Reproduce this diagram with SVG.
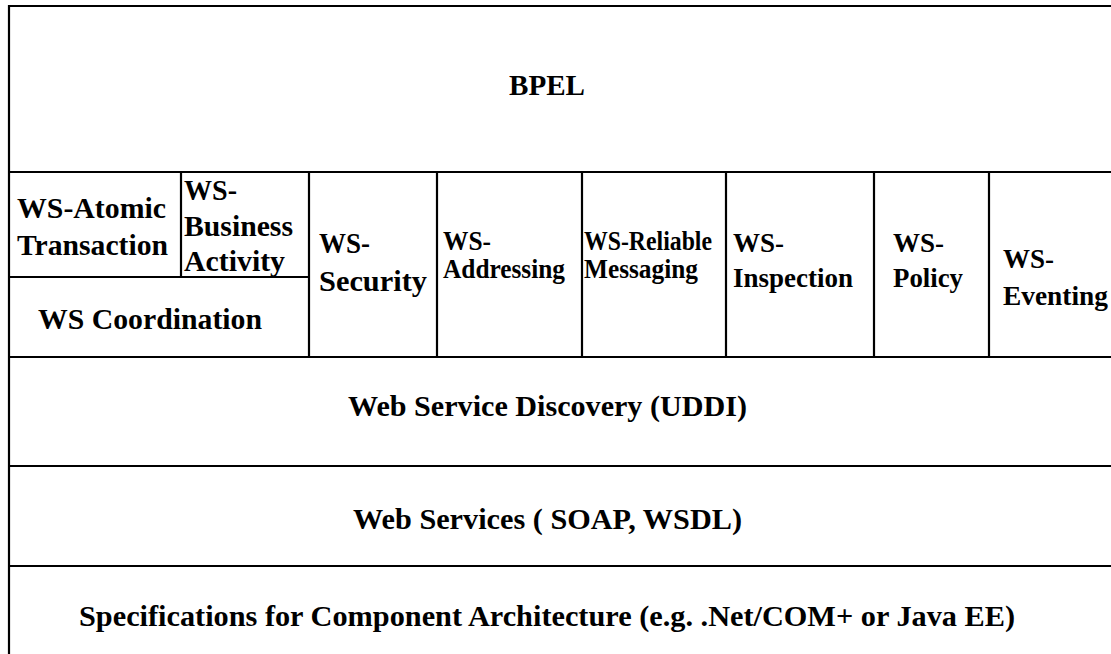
<svg xmlns="http://www.w3.org/2000/svg" width="1111" height="654" viewBox="0 0 1111 654">
<style>
  .ln { stroke: #000; stroke-width: 2.2; fill: none; }
  text { font-family: "Liberation Serif", "Times New Roman", serif; font-weight: bold; fill: #000; }
  .c { text-anchor: middle; }
  .big { font-size: 30px; }
  .l { font-size: 29px; }
  .m { font-size: 27px; }
  .r { font-size: 28px; }
</style>
<rect width="1111" height="654" fill="#fff"/>
<g id="connectors">
  <path class="ln" d="M9 6 H1111 M9 5 V654"/>
  <path class="ln" d="M9 172 H1111 M9 357 H1111 M9 466 H1111 M9 566 H1111"/>
  <path class="ln" d="M9 277 H309 M181 172 V277"/>
  <path class="ln" d="M309 172 V357 M437 172 V357 M582 172 V357 M726 172 V357 M874 172 V357 M989 172 V357"/>
</g>
<g id="bpel"><text class="big c" x="547" y="95" textLength="76" lengthAdjust="spacingAndGlyphs">BPEL</text></g>
<g id="ws-atomic">
  <text class="l" x="17" y="218" textLength="149" lengthAdjust="spacingAndGlyphs">WS-Atomic</text>
  <text class="l" x="17" y="255" textLength="151" lengthAdjust="spacingAndGlyphs">Transaction</text>
</g>
<g id="ws-business">
  <text class="l" x="184" y="200" textLength="53" lengthAdjust="spacingAndGlyphs">WS-</text>
  <text class="l" x="184" y="236" textLength="109" lengthAdjust="spacingAndGlyphs">Business</text>
  <text class="l" x="184" y="271" textLength="101" lengthAdjust="spacingAndGlyphs">Activity</text>
</g>
<g id="ws-coordination">
  <text class="l" x="38" y="329" textLength="224" lengthAdjust="spacingAndGlyphs">WS Coordination</text>
</g>
<g id="ws-security">
  <text class="l" x="319" y="253" textLength="51" lengthAdjust="spacingAndGlyphs">WS-</text>
  <text class="l" x="319" y="291" textLength="108" lengthAdjust="spacingAndGlyphs">Security</text>
</g>
<g id="ws-addressing">
  <text class="m" x="443" y="250" textLength="48" lengthAdjust="spacingAndGlyphs">WS-</text>
  <text class="m" x="443" y="278" textLength="122" lengthAdjust="spacingAndGlyphs">Addressing</text>
</g>
<g id="ws-reliable">
  <text class="m" x="584" y="250" textLength="128" lengthAdjust="spacingAndGlyphs">WS-Reliable</text>
  <text class="m" x="584" y="278" textLength="114" lengthAdjust="spacingAndGlyphs">Messaging</text>
</g>
<g id="ws-inspection">
  <text class="r" x="733" y="252" textLength="51" lengthAdjust="spacingAndGlyphs">WS-</text>
  <text class="r" x="733" y="287" textLength="120" lengthAdjust="spacingAndGlyphs">Inspection</text>
</g>
<g id="ws-policy">
  <text class="r" x="893" y="252" textLength="51" lengthAdjust="spacingAndGlyphs">WS-</text>
  <text class="r" x="893" y="287" textLength="70" lengthAdjust="spacingAndGlyphs">Policy</text>
</g>
<g id="ws-eventing">
  <text class="r" x="1003" y="268" textLength="51" lengthAdjust="spacingAndGlyphs">WS-</text>
  <text class="r" x="1003" y="305" textLength="105" lengthAdjust="spacingAndGlyphs">Eventing</text>
</g>
<g id="uddi"><text class="big c" x="547.5" y="416" textLength="399" lengthAdjust="spacingAndGlyphs">Web Service Discovery (UDDI)</text></g>
<g id="web-services"><text class="big c" x="547.5" y="529" textLength="389" lengthAdjust="spacingAndGlyphs">Web Services ( SOAP, WSDL)</text></g>
<g id="specs"><text class="big c" x="547" y="626" textLength="936" lengthAdjust="spacingAndGlyphs">Specifications for Component Architecture (e.g. .Net/COM+ or Java EE)</text></g>
</svg>
